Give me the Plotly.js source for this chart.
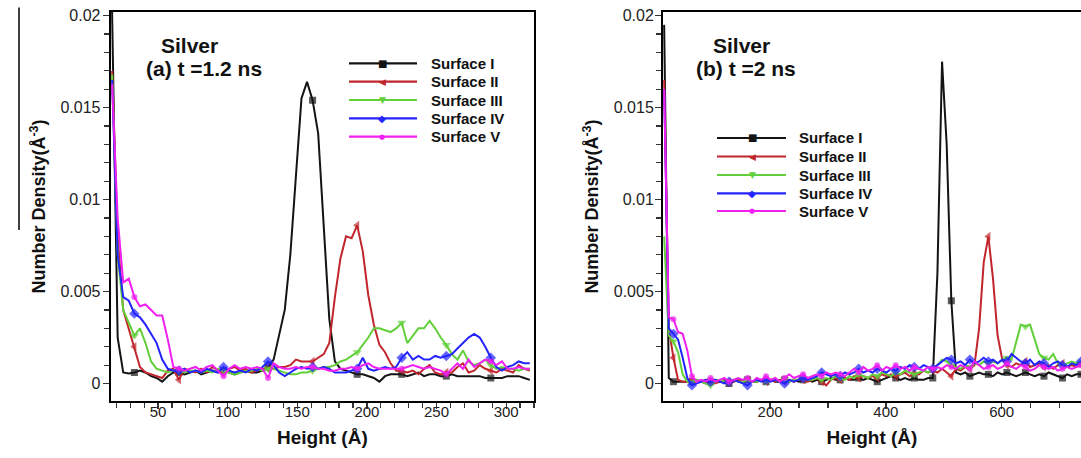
<!DOCTYPE html>
<html>
<head>
<meta charset="utf-8">
<script src="https://cdn.plot.ly/plotly-3.0.1.min.js"></script>
<style>
  html, body { margin: 0; padding: 0; background: #fff; }
  #chart { width: 1081px; height: 458px; }
</style>
</head>
<body>
<div id="chart"></div>
<script>
// ---------- (a) t = 1.2 ns : heights (Å) and number densities (Å^-3) ----------
const heightsA = [17,21,25,29,33,37,41,45,49,53,57,61,65,69,73,77,81,85,89,93,
  97,101,105,109,113,117,121,125,129,133,137,141,145,149,153,157,161,165,169,173,
  177,181,185,189,193,197,201,205,209,213,217,221,225,229,233,237,241,245,249,253,
  257,261,265,269,273,277,281,285,289,293,297,301,305,309,313,317];

const surfI_a = [0.0202,0.0025,0.0006,0.00055,0.0006,0.0007,0.0006,0.0004,0.0003,0.0001,
  0.0004,0.0006,0.0006,0.0005,0.0006,0.0007,0.0005,0.0006,0.0007,0.0006,
  0.0007,0.0006,0.0005,0.0006,0.0007,0.0006,0.0006,0.0007,0.0009,0.0013,
  0.0026,0.0040,0.0070,0.0112,0.0155,0.0164,0.0154,0.0136,0.0085,0.0035,
  0.0012,0.0008,0.0007,0.0006,0.0005,0.0005,0.0004,0.0003,0.0001,0.0004,
  0.0005,0.0005,0.0005,0.0004,0.0005,0.0006,0.0004,0.0005,0.0005,0.0004,
  0.0004,0.0005,0.0004,0.0004,0.0004,0.0004,0.0004,0.0003,0.0003,0.0003,
  0.0003,0.0004,0.0004,0.0004,0.0003,0.0002];

const surfII_a = [0.0170,0.0080,0.0040,0.0030,0.0020,0.0009,0.0006,0.0005,0.0004,0.0003,
  0.0007,0.0008,0.0002,0.0008,0.0007,0.0006,0.0008,0.0006,0.0009,0.0007,
  0.0006,0.0008,0.0009,0.0007,0.0008,0.0006,0.0007,0.0008,0.0008,0.0008,
  0.0009,0.0009,0.0010,0.0013,0.0012,0.0012,0.0012,0.0014,0.0016,0.0022,
  0.0047,0.0068,0.0080,0.0079,0.0086,0.0072,0.0048,0.0032,0.0021,0.0017,
  0.0011,0.0007,0.0007,0.0006,0.0007,0.0005,0.0008,0.0010,0.0006,0.0005,
  0.0006,0.0006,0.0009,0.0011,0.0006,0.0007,0.0010,0.0008,0.0007,0.0006,
  0.0008,0.0007,0.0006,0.0010,0.0008,0.0007];

const surfIII_a = [0.0168,0.0070,0.0040,0.0033,0.0026,0.0030,0.0022,0.0012,0.0008,0.0007,
  0.0006,0.0007,0.0007,0.0006,0.0007,0.0007,0.0006,0.0007,0.0006,0.0008,
  0.0007,0.0006,0.0005,0.0006,0.0007,0.0007,0.0008,0.0007,0.0008,0.0008,
  0.0007,0.0006,0.0005,0.0005,0.0006,0.0006,0.0007,0.0008,0.0009,0.0009,
  0.0010,0.0012,0.0013,0.0015,0.0017,0.0021,0.0025,0.0030,0.0030,0.0029,
  0.0028,0.0030,0.0033,0.0022,0.0026,0.0030,0.0030,0.0034,0.0030,0.0025,
  0.0021,0.0016,0.0013,0.0018,0.0012,0.0010,0.0011,0.0013,0.0010,0.0008,
  0.0009,0.0008,0.0008,0.0007,0.0008,0.0008];

const surfIV_a = [0.0165,0.0070,0.0047,0.0045,0.0038,0.0036,0.0032,0.0027,0.0022,0.0013,
  0.0008,0.0007,0.0007,0.0008,0.0006,0.0007,0.0006,0.0008,0.0007,0.0006,
  0.0009,0.0007,0.0006,0.0007,0.0006,0.0008,0.0007,0.0009,0.0012,0.0010,
  0.0006,0.0004,0.0006,0.0008,0.0009,0.0008,0.0009,0.0008,0.0009,0.0008,
  0.0006,0.0006,0.0006,0.0007,0.0008,0.0014,0.0008,0.0007,0.0008,0.0009,
  0.0008,0.0009,0.0014,0.0017,0.0013,0.0015,0.0013,0.0013,0.0015,0.0014,
  0.0015,0.0016,0.0019,0.0022,0.0025,0.0027,0.0025,0.0020,0.0014,0.0009,
  0.0007,0.0009,0.0010,0.0012,0.0011,0.0011];

const surfV_a = [0.0163,0.0090,0.0055,0.0057,0.0047,0.0042,0.0043,0.0040,0.0037,0.0037,
  0.0024,0.0009,0.0008,0.0007,0.0008,0.0009,0.0007,0.0009,0.0010,0.0007,
  0.0004,0.0008,0.0010,0.0008,0.0009,0.0008,0.0009,0.0008,0.0003,0.0011,
  0.0009,0.0008,0.0008,0.0009,0.0008,0.0009,0.0009,0.0008,0.0008,0.0007,
  0.0007,0.0008,0.0008,0.0009,0.0008,0.0010,0.0011,0.0009,0.0008,0.0008,
  0.0008,0.0008,0.0008,0.0009,0.0010,0.0009,0.0008,0.0009,0.0008,0.0007,
  0.0005,0.0008,0.0011,0.0008,0.0013,0.0009,0.0011,0.0013,0.0012,0.0010,
  0.0012,0.0008,0.0008,0.0009,0.0008,0.0008];

// ---------- (b) t = 2 ns ----------
const heightsB = [17,25,33,41,49,57,65,73,81,89,97,105,113,121,129,137,145,153,161,169,
  177,185,193,201,209,217,225,233,241,249,257,265,273,281,289,297,305,313,321,329,
  337,345,353,361,369,377,385,393,401,409,417,425,433,441,449,457,465,473,481,489,
  497,505,513,521,529,537,545,553,561,569,577,585,593,601,609,617,625,633,641,649,
  657,665,673,681,689,697,705,713,721,729,737];

const surfI_b = [0.0195,0.0003,0.0001,0.0001,0.0001,0.0001,0.0001,0.0002,0.0001,0.0000,
  0.0001,0.0002,0.0001,0.0001,0.0000,0.0001,0.0002,0.0001,0.0002,0.0001,
  0.0001,0.0002,0.0001,0.0002,0.0001,0.0001,0.0002,0.0001,0.0002,0.0001,
  0.0002,0.0002,0.0001,0.0002,0.0001,0.0002,0.0003,0.0002,0.0002,0.0003,
  0.0002,0.0002,0.0003,0.0002,0.0003,0.0002,0.0001,0.0002,0.0003,0.0004,
  0.0003,0.0002,0.0003,0.0002,0.0003,0.0002,0.0002,0.0003,0.0003,0.0060,
  0.0175,0.0130,0.0045,0.0006,0.0005,0.0006,0.0004,0.0005,0.0006,0.0005,
  0.0005,0.0004,0.0006,0.0005,0.0006,0.0005,0.0004,0.0005,0.0006,0.0005,
  0.0004,0.0005,0.0004,0.0006,0.0005,0.0004,0.0003,0.0005,0.0004,0.0005,
  0.0005];

const surfII_b = [0.0165,0.0030,0.0014,0.0002,0.0001,0.0001,0.0002,0.0001,0.0001,0.0002,
  0.0001,0.0000,0.0001,0.0002,0.0001,0.0001,0.0002,0.0001,0.0002,0.0001,
  0.0001,0.0002,0.0001,0.0002,0.0001,0.0002,0.0001,0.0002,0.0001,0.0002,
  0.0002,0.0001,0.0002,0.0003,0.0001,-0.0001,0.0002,0.0003,0.0002,0.0003,
  0.0002,0.0004,0.0003,0.0004,0.0003,0.0004,0.0003,0.0005,0.0004,0.0005,
  0.0004,0.0005,0.0006,0.0004,0.0006,0.0005,0.0007,0.0006,0.0007,0.0006,
  0.0008,0.0006,0.0004,0.0008,0.0007,0.0009,0.0008,0.0010,0.0030,0.0066,
  0.0080,0.0057,0.0026,0.0013,0.0010,0.0009,0.0011,0.0010,0.0012,0.0009,
  0.0010,0.0011,0.0009,0.0010,0.0008,0.0010,0.0011,0.0009,0.0010,0.0009,
  0.0010];

const surfIII_b = [0.0080,0.0026,0.0023,0.0017,0.0005,0.0001,0.0001,0.0002,0.0001,0.0000,
  -0.0001,0.0001,0.0002,0.0001,0.0001,0.0002,0.0001,0.0001,0.0002,0.0001,
  0.0001,0.0002,0.0001,0.0002,0.0002,0.0001,0.0002,0.0001,0.0002,0.0002,
  0.0003,0.0002,0.0002,0.0003,0.0002,0.0003,0.0002,0.0004,0.0003,0.0002,
  0.0004,0.0003,0.0005,0.0004,0.0003,0.0005,0.0004,0.0006,0.0005,0.0004,
  0.0006,0.0005,0.0007,0.0006,0.0005,0.0006,0.0007,0.0006,0.0008,0.0010,
  0.0013,0.0012,0.0010,0.0009,0.0008,0.0010,0.0009,0.0011,0.0010,0.0012,
  0.0011,0.0012,0.0011,0.0013,0.0014,0.0013,0.0022,0.0032,0.0031,0.0032,
  0.0024,0.0016,0.0014,0.0013,0.0016,0.0011,0.0010,0.0011,0.0012,0.0011,
  0.0012];

const surfIV_b = [0.0160,0.0030,0.0027,0.0024,0.0014,0.0003,-0.0001,0.0000,0.0001,0.0002,
  0.0001,0.0002,0.0001,0.0000,0.0001,0.0002,0.0001,0.0000,-0.0001,0.0001,
  0.0002,0.0001,0.0002,0.0001,0.0002,0.0001,0.0000,0.0002,0.0001,0.0002,
  0.0003,0.0002,0.0003,0.0004,0.0006,0.0005,0.0004,0.0005,0.0004,0.0006,
  0.0005,0.0006,0.0008,0.0006,0.0007,0.0006,0.0008,0.0007,0.0006,0.0008,
  0.0007,0.0009,0.0008,0.0010,0.0009,0.0008,0.0010,0.0009,0.0008,0.0010,
  0.0012,0.0014,0.0013,0.0011,0.0012,0.0010,0.0013,0.0011,0.0012,0.0014,
  0.0012,0.0013,0.0011,0.0013,0.0012,0.0016,0.0014,0.0012,0.0011,0.0013,
  0.0010,0.0012,0.0011,0.0009,0.0011,0.0012,0.0010,0.0009,0.0011,0.0010,
  0.0012];

const surfV_b = [0.0160,0.0036,0.0035,0.0028,0.0027,0.0018,0.0004,0.0001,0.0002,0.0001,
  0.0003,0.0001,0.0002,0.0003,0.0001,0.0002,0.0003,0.0002,0.0003,0.0001,
  0.0003,0.0002,0.0004,0.0002,0.0003,0.0001,0.0003,0.0005,0.0003,0.0004,
  0.0005,0.0003,0.0004,0.0005,0.0004,0.0006,0.0005,0.0006,0.0005,0.0004,
  0.0006,0.0008,0.0006,0.0009,0.0007,0.0008,0.0010,0.0007,0.0009,0.0008,
  0.0010,0.0008,0.0009,0.0007,0.0009,0.0008,0.0007,0.0009,0.0008,0.0009,
  0.0008,0.0010,0.0009,0.0008,0.0010,0.0009,0.0008,0.0012,0.0010,0.0008,
  0.0009,0.0010,0.0008,0.0009,0.0011,0.0009,0.0008,0.0010,0.0009,0.0007,
  0.0008,0.0010,0.0009,0.0008,0.0009,0.0007,0.0008,0.0009,0.0008,0.0009,
  0.0010];

const seriesNames = ['Surface I', 'Surface II', 'Surface III', 'Surface IV', 'Surface V'];
const yTickVals = [0, 0.005, 0.01, 0.015, 0.02];
const yTickText = ['0', '0.005', '0.01', '0.015', '0.02'];
const panelLabels = [['Silver', '(a) t =1.2 ns'], ['Silver', '(b) t =2 ns']];

// ---------- styling ----------
const W = 1081, H = 458;
const FONT = 'Liberation Sans, Arial, sans-serif';
const colors  = ['#141414', '#c0262c', '#62d03a', '#2424ff', '#f020f0'];
const symbols = ['square', 'triangle-left', 'triangle-down', 'diamond', 'circle'];
const symSize = [7, 8, 8, 8, 6];
const glyphs  = ['\u25A0', '\u25C0', '\u25BC', '\u25C6', '\u25CF'];
const glyphSize = [10, 9, 9, 10, 7];

// symbols sit on every 32 Å along each profile
const markSizes = (xs, s) => xs.map(x => ((x - 33) % 32 === 0 ? s : 0));

const traces = [];
const setsA = [surfI_a, surfII_a, surfIII_a, surfIV_a, surfV_a];
const setsB = [surfI_b, surfII_b, surfIII_b, surfIV_b, surfV_b];
[[heightsA, setsA, 'x', 'y'], [heightsB, setsB, 'x2', 'y2']].forEach(([xs, sets, xa, ya]) => {
  sets.forEach((ys, i) => {
    traces.push({
      type: 'scatter', mode: 'lines+markers', name: seriesNames[i],
      x: xs, y: ys, xaxis: xa, yaxis: ya,
      line: { color: colors[i], width: 2 },
      marker: { symbol: symbols[i], color: colors[i], size: markSizes(xs, symSize[i]), line: { width: 0 } },
      cliponaxis: true, showlegend: false
    });
  });
});

const px = v => v / W;
const py = v => 1 - v / H;
const yDomain = [py(401), py(12)];

const bold = (t) => '<b>' + t + '</b>';
const yTitle = { text: bold('Number Density(Å<sup>-3</sup>)'), standoff: 10,
  font: { family: FONT, size: 18, color: '#111' } };
const xTitle = { text: bold('Height (Å)'), standoff: 12,
  font: { family: FONT, size: 19, color: '#111' } };

const axisBase = {
  showgrid: false, zeroline: false, showline: true, linecolor: '#000', linewidth: 2,
  ticks: 'outside', ticklen: 6, tickwidth: 1.3, tickcolor: '#333',
  layer: 'below traces', automargin: false, fixedrange: true
};
const xMinor = (d) => ({ dtick: d, tick0: 0, ticks: 'outside', ticklen: 5, tickcolor: '#333', tickwidth: 1.2 });
const yMinor = { dtick: 0.001, tick0: 0, ticks: 'outside', ticklen: 5, tickcolor: '#333', tickwidth: 1.2 };

const layout = {
  width: W, height: H,
  margin: { l: 0, r: 0, t: 0, b: 0 },
  paper_bgcolor: '#fff', plot_bgcolor: '#fff',
  showlegend: false,
  font: { family: FONT, color: '#222' },
  xaxis: Object.assign({}, axisBase, {
    domain: [px(110.7), px(534)], range: [16, 320], anchor: 'y',
    tick0: 0, dtick: 50, mirror: true, ticklabelstandoff: -10,
    tickfont: { size: 15, color: '#222' }, minor: xMinor(10), title: xTitle
  }),
  yaxis: Object.assign({}, axisBase, {
    domain: yDomain, range: [-0.00095, 0.0202], anchor: 'x', mirror: true,
    tickvals: yTickVals, ticktext: yTickText, ticklabelstandoff: -1,
    tickfont: { size: 16, color: '#222' }, minor: yMinor, title: yTitle
  }),
  xaxis2: Object.assign({}, axisBase, {
    domain: [px(663), 1], range: [15, 737], anchor: 'y2',
    tick0: 0, dtick: 200, mirror: true, ticklabelstandoff: -10,
    tickfont: { size: 15, color: '#222' }, minor: xMinor(50), title: xTitle
  }),
  yaxis2: Object.assign({}, axisBase, {
    domain: yDomain, range: [-0.00095, 0.0202], anchor: 'x2', mirror: false,
    tickvals: yTickVals, ticktext: yTickText, ticklabelstandoff: -2,
    tickfont: { size: 16, color: '#222' }, minor: yMinor, title: yTitle
  }),
  shapes: [
    // thin rule at the far left edge
    { type: 'line', xref: 'paper', yref: 'paper', x0: px(19), x1: px(19), y0: py(7.6), y1: py(230),
      line: { color: '#000', width: 1.5 } }
  ],
  annotations: []
};

const ann = (x, y, text, size, extra) => Object.assign({
  xref: 'paper', yref: 'paper', x: px(x), y: py(y), text: text, showarrow: false,
  xanchor: 'center', yanchor: 'middle',
  font: { family: FONT, size: size, color: '#111' }
}, extra || {});

// panel headings
layout.annotations.push(ann(189, 45.4, bold(panelLabels[0][0]), 21));
layout.annotations.push(ann(204, 68, bold(panelLabels[0][1]), 21));
layout.annotations.push(ann(741.5, 45.4, bold(panelLabels[1][0]), 21));
layout.annotations.push(ann(746, 68, bold(panelLabels[1][1]), 21));

// keys
const keys = [
  { x0: 349, x1: 417, xm: 382, xt: 429, rows: [63.3, 81.7, 100, 118.3, 136.7] },
  { x0: 717, x1: 786, xm: 752, xt: 797, rows: [138, 156.5, 175, 193.3, 211] }
];
keys.forEach(k => {
  k.rows.forEach((yy, i) => {
    layout.shapes.push({ type: 'line', xref: 'paper', yref: 'paper',
      x0: px(k.x0), x1: px(k.x1), y0: py(yy), y1: py(yy),
      line: { color: colors[i], width: 2.2 } });
    layout.annotations.push(ann(k.xm, yy, glyphs[i], glyphSize[i],
      { font: { family: 'DejaVu Sans', size: glyphSize[i], color: colors[i] } }));
    layout.annotations.push(ann(k.xt, yy, bold(seriesNames[i]), 15,
      { xanchor: 'left' }));
  });
});

Plotly.newPlot('chart', traces, layout, { displayModeBar: false, staticPlot: true });
</script>
</body>
</html>
